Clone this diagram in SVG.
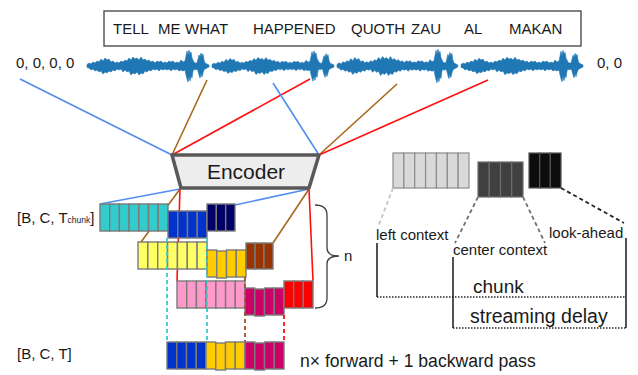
<svg xmlns="http://www.w3.org/2000/svg" width="638" height="375" viewBox="0 0 638 375">
<style>
text{font-family:"Liberation Sans",Arial,sans-serif;fill:#1a1a1a}
.t15{font-size:15px}
.cell{stroke:#7a7a7a;stroke-width:1.4}
.teal{fill:#33cccc}.blu{fill:#0033cc}.nav{fill:#000066}.yel{fill:#ffff66}.gold{fill:#ffcc00}.brn{fill:#993300}.pnk{fill:#ff99cc}.mag{fill:#cc0066}.red{fill:#ff0000}
.lg{fill:#d9d9d9;stroke:#8c8c8c;stroke-width:1.2}.dg{fill:#404040;stroke:#6e6e6e;stroke-width:1.2}.bk{fill:#0d0d0d;stroke:#555;stroke-width:1.2}
.lb{stroke:#4f8ef0;stroke-width:1.6;fill:none}.lbr{stroke:#a8661c;stroke-width:1.6;fill:none}.lr{stroke:#ff1010;stroke-width:1.6;fill:none}
.dash{stroke-width:1.8;stroke-dasharray:4 3;fill:none}
.solid{stroke:#262626;stroke-width:1.6;fill:none}
.dot{stroke:#262626;stroke-width:1.6;stroke-dasharray:1.5 1.5;fill:none}
</style>
<defs>
<path id="wseg" fill="#1f77b4" stroke="#1f77b4" stroke-width="0.6" stroke-linejoin="round" d="M0,-1.5 L2,-3 4,-2 6,-4 8,-3 10,-5 12,-4 14,-7 16,-5 18,-8 20,-6 22,-7 24,-4 26,-5 28,-3 30,-4 32,-3 34,-5 36,-4 38,-6 40,-5 42,-8 44,-6 46,-9 48,-7 50,-8 52,-6 54,-9 56,-6 58,-7 60,-5 62,-6 64,-4 66,-5 68,-3 70,-5 72,-4 74,-5 76,-3 78,-4 80,-3 82,-5 84,-4 86,-5 88,-3 90,-4 92,-3 94,-6 96,-4 98,-5 99,-10 100,-15 101,-11 102,-16 103,-12 104,-14 105,-8 106,-6 107,-4 108,-3 110,-3 111,-7 112,-11 113,-9 114,-13 115,-10 116,-12 117,-6 118,-3 120,-2 122,-1 L122,1 120,2 118,3 117,4 116,7 115,11 114,8 113,12 112,9 111,5 110,3 108,4 107,3 106,5 105,12 104,10 103,15 102,11 101,16 100,13 99,9 98,4 96,5 94,4 92,5 90,3 88,4 86,3 84,5 82,3 80,4 78,3 76,4 74,3 72,5 70,3 68,4 66,3 64,5 62,4 60,6 58,5 56,8 54,7 52,9 50,6 48,8 46,7 44,9 42,5 40,6 38,4 36,6 34,3 32,4 30,3 28,5 26,4 24,6 22,5 20,7 18,6 16,8 14,5 12,6 10,4 8,5 6,3 4,4 2,2 0,1.5 Z"/>
</defs>

<g id="transcript">
<rect x="104" y="11" width="477" height="35" fill="#fff" stroke="#404040" stroke-width="1.3"/>
<text class="t15" y="34"><tspan x="113">TELL</tspan><tspan x="158">ME</tspan><tspan x="185">WHAT</tspan><tspan x="253">HAPPENED</tspan><tspan x="351">QUOTH</tspan><tspan x="411">ZAU</tspan><tspan x="464">AL</tspan><tspan x="509">MAKAN</tspan></text>
</g>

<g id="waveform">
<use href="#wseg" transform="translate(87,66)"/>
<use href="#wseg" transform="translate(212,66) scale(1,0.95)"/>
<use href="#wseg" transform="translate(337,66) scale(0.99,1.05)"/>
<use href="#wseg" transform="translate(461,66) scale(1,0.98)"/>
<text class="t15" x="16" y="68">0, 0, 0, 0</text>
<text class="t15" x="597" y="68">0, 0</text>
</g>

<g id="connectors">
<line class="lb" x1="20" y1="79" x2="172" y2="155"/>
<line class="lbr" x1="207" y1="80" x2="172" y2="155"/>
<line class="lr" x1="310" y1="79" x2="172" y2="155"/>
<line class="lb" x1="273" y1="83" x2="319" y2="155"/>
<line class="lbr" x1="397" y1="84" x2="319" y2="155"/>
<line class="lr" x1="488" y1="80" x2="319" y2="155"/>
<line class="lb" x1="180" y1="189" x2="100" y2="204"/>
<line class="lbr" x1="180" y1="189" x2="141" y2="242"/>
<line class="lr" x1="180" y1="189" x2="177" y2="281"/>
<line class="lb" x1="309" y1="189" x2="235" y2="205"/>
<line class="lbr" x1="309" y1="189" x2="273" y2="243"/>
<line class="lr" x1="309" y1="189" x2="313" y2="281"/>
</g>

<g id="encoder">
<polygon points="172,155 319,155 309,188 181,188" fill="#ededed" stroke="#595959" stroke-width="3.5" stroke-linejoin="round"/>
<text x="246" y="179" font-size="21" text-anchor="middle">Encoder</text>
</g>

<g id="row1">
<rect class="cell teal" x="100" y="204" width="9.7" height="27"/><rect class="cell teal" x="109.7" y="204" width="9.7" height="27"/><rect class="cell teal" x="119.4" y="204" width="9.7" height="27"/><rect class="cell teal" x="129.1" y="204" width="9.7" height="27"/><rect class="cell teal" x="138.8" y="204" width="9.7" height="27"/><rect class="cell teal" x="148.5" y="204" width="9.7" height="27"/><rect class="cell teal" x="158.2" y="204" width="9.8" height="27"/>
<rect class="cell blu" x="168" y="211" width="9.75" height="27"/><rect class="cell blu" x="177.75" y="211" width="9.75" height="27"/><rect class="cell blu" x="187.5" y="211" width="9.75" height="27"/><rect class="cell blu" x="197.25" y="211" width="9.75" height="27"/>
<rect class="cell nav" x="207" y="204" width="9.33" height="27"/><rect class="cell nav" x="216.33" y="204" width="9.33" height="27"/><rect class="cell nav" x="225.67" y="204" width="9.33" height="27"/>
</g>

<g id="row2">
<rect class="cell yel" x="138" y="242" width="9.86" height="27"/><rect class="cell yel" x="147.86" y="242" width="9.86" height="27"/><rect class="cell yel" x="157.71" y="242" width="9.86" height="27"/><rect class="cell yel" x="167.57" y="242" width="9.86" height="27"/><rect class="cell yel" x="177.43" y="242" width="9.86" height="27"/><rect class="cell yel" x="187.29" y="242" width="9.86" height="27"/><rect class="cell yel" x="197.14" y="242" width="9.86" height="27"/>
<rect class="cell gold" x="207" y="250" width="9.75" height="27"/><rect class="cell gold" x="216.75" y="251" width="9.75" height="27"/><rect class="cell gold" x="226.5" y="250" width="9.75" height="27"/><rect class="cell gold" x="236.25" y="250" width="9.75" height="27"/>
<rect class="cell brn" x="246" y="243" width="9" height="26"/><rect class="cell brn" x="255" y="243" width="9" height="26"/><rect class="cell brn" x="264" y="243" width="9" height="26"/>
</g>

<g id="row3">
<rect class="cell pnk" x="177" y="281" width="9.71" height="27"/><rect class="cell pnk" x="186.71" y="281" width="9.71" height="27"/><rect class="cell pnk" x="196.43" y="281" width="9.71" height="27"/><rect class="cell pnk" x="206.14" y="281" width="9.71" height="27"/><rect class="cell pnk" x="215.86" y="281" width="9.71" height="27"/><rect class="cell pnk" x="225.57" y="281" width="9.71" height="27"/><rect class="cell pnk" x="235.29" y="281" width="9.71" height="27"/>
<rect class="cell mag" x="245" y="288" width="9.75" height="27"/><rect class="cell mag" x="254.75" y="289" width="9.75" height="27"/><rect class="cell mag" x="264.5" y="288" width="9.75" height="27"/><rect class="cell mag" x="274.25" y="288" width="9.75" height="27"/>
<rect class="cell red" x="284" y="281" width="9.67" height="27"/><rect class="cell red" x="293.67" y="281" width="9.67" height="27"/><rect class="cell red" x="303.33" y="281" width="9.67" height="27"/>
</g>

<g id="dashed-links">
<line class="dash" stroke="#33cccc" x1="167" y1="238" x2="167" y2="342"/>
<line class="dash" stroke="#33cccc" x1="207" y1="238" x2="207" y2="342"/>
<line class="dash" stroke="#a0522d" x1="245" y1="277" x2="245" y2="342"/>
<line class="dash" stroke="#ff1010" x1="284" y1="315" x2="284" y2="342"/>
</g>

<g id="row-out">
<rect class="cell blu" x="167" y="342" width="9.75" height="27"/><rect class="cell blu" x="176.75" y="342" width="9.75" height="27"/><rect class="cell blu" x="186.5" y="342" width="9.75" height="27"/><rect class="cell blu" x="196.25" y="342" width="9.75" height="27"/>
<rect class="cell gold" x="206" y="342" width="9.75" height="27"/><rect class="cell gold" x="215.75" y="343" width="9.75" height="27"/><rect class="cell gold" x="225.5" y="342" width="9.75" height="27"/><rect class="cell gold" x="235.25" y="342" width="9.75" height="27"/>
<rect class="cell mag" x="245" y="342" width="9.75" height="27"/><rect class="cell mag" x="254.75" y="343" width="9.75" height="27"/><rect class="cell mag" x="264.5" y="342" width="9.75" height="27"/><rect class="cell mag" x="274.25" y="342" width="9.75" height="27"/>
</g>

<g id="brace">
<path d="M315,205 Q327,205 327,215 L327,248 Q327,256 339,256 Q327,256 327,264 L327,298 Q327,308 315,308" fill="none" stroke="#404040" stroke-width="1.3"/>
<text class="t15" x="344" y="261">n</text>
</g>

<g id="labels">
<text class="t15" x="17" y="223">[B, C, T<tspan font-size="8.5">chunk</tspan>]</text>
<text class="t15" x="17" y="359">[B, C, T]</text>
<text x="300" y="367" font-size="17.6">n× forward + 1 backward pass</text>
</g>

<g id="legend-left">
<rect class="lg" x="393" y="153" width="10.86" height="35"/><rect class="lg" x="403.86" y="153" width="10.86" height="35"/><rect class="lg" x="414.71" y="153" width="10.86" height="35"/><rect class="lg" x="425.57" y="153" width="10.86" height="35"/><rect class="lg" x="436.43" y="153" width="10.86" height="35"/><rect class="lg" x="447.29" y="153" width="10.86" height="35"/><rect class="lg" x="458.14" y="153" width="10.86" height="35"/>
</g>
<g id="legend-center">
<rect class="dg" x="478" y="162" width="11.25" height="35"/><rect class="dg" x="489.25" y="162" width="11.25" height="35"/><rect class="dg" x="500.5" y="162" width="11.25" height="35"/><rect class="dg" x="511.75" y="162" width="11.25" height="35"/>
</g>
<g id="legend-ahead">
<rect class="bk" x="529" y="153" width="10.67" height="35"/><rect class="bk" x="539.67" y="153" width="10.67" height="35"/><rect class="bk" x="550.33" y="153" width="10.67" height="35"/>
</g>

<g id="legend-lines">
<line class="dash" stroke="#c4c4c4" stroke-width="1.5" x1="393" y1="188" x2="378" y2="227"/>
<line class="dash" stroke="#707070" stroke-width="1.5" x1="478" y1="197" x2="455" y2="243"/>
<line class="dash" stroke="#707070" stroke-width="1.5" x1="523" y1="197" x2="545" y2="243"/>
<line class="dash" stroke="#262626" stroke-width="1.5" x1="561" y1="188" x2="624" y2="223"/>
<line class="solid" x1="377" y1="243" x2="377" y2="297"/>
<line class="solid" x1="453" y1="257" x2="453" y2="328"/>
<line class="solid" x1="626" y1="238" x2="626" y2="328"/>
<line class="dot" x1="377" y1="297" x2="626" y2="297"/>
<line class="dot" x1="453" y1="328" x2="626" y2="328"/>
</g>

<g id="legend-text">
<text class="t15" x="376" y="240">left context</text>
<text class="t15" x="453" y="255">center context</text>
<text class="t15" x="549" y="238">look-ahead</text>
<text x="473" y="293" font-size="19">chunk</text>
<text x="470" y="323" font-size="19.5">streaming delay</text>
</g>
</svg>
